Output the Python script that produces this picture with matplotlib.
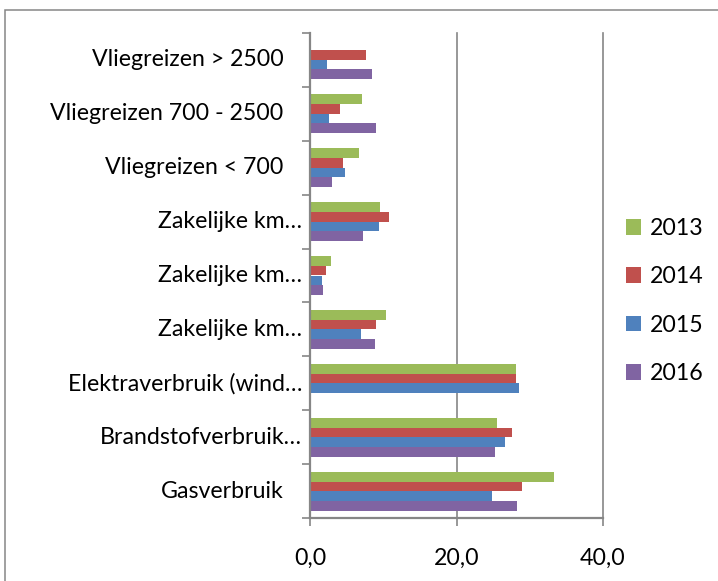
import matplotlib
matplotlib.use('Agg')
import matplotlib.pyplot as plt
from matplotlib.patches import Rectangle
from matplotlib.transforms import ScaledTranslation
import numpy as np

categories = ["Gasverbruik", "Brandstofverbruik…", "Elektraverbruik (wind…",
              "Zakelijke km…", "Zakelijke km…", "Zakelijke km…",
              "Vliegreizen < 700", "Vliegreizen 700 - 2500", "Vliegreizen > 2500"]
years = ["2013", "2014", "2015", "2016"]
v2013 = [33.3, 25.5, 28.1, 10.3, 2.8, 9.5, 6.7, 7.1, 0.0]
v2014 = [28.9, 27.6, 28.1, 9.0, 2.2, 10.8, 4.5, 4.1, 7.6]
v2015 = [24.8, 26.6, 28.5, 6.9, 1.6, 9.4, 4.7, 2.6, 2.3]
v2016 = [28.3, 25.2, 0.0, 8.8, 1.7, 7.2, 2.9, 9.0, 8.4]
xticks = [0, 20, 40]
xticklabels = ["0,0", "20,0", "40,0"]

series = [v2013, v2014, v2015, v2016]
colors = ["#9BBB59", "#C0504D", "#4F81BD", "#8064A2"]

FONT = ['Lato', 'DejaVu Sans']
plt.rcParams['font.family'] = FONT
FS = 16.7
GRAY = '#868686'

W, H = 718, 581
fig = plt.figure(figsize=(W / 100, H / 100), dpi=100)
fig.patch.set_facecolor('white')

left, right, top, bottom = 310.3, 603.0, 32.7, 518.3
ax = fig.add_axes([left / W, 1 - bottom / H, (right - left) / W, (bottom - top) / H])

n = len(categories)
y = np.arange(n)
h = 0.179
offsets = [1.5 * h, 0.5 * h, -0.5 * h, -1.5 * h]
handles = []
for vals, col, off, yr in zip(series, colors, offsets, years):
    b = ax.barh(y + off, vals, height=h, color=col, linewidth=0, label=yr, zorder=3)
    handles.append(b)

ax.set_xlim(0, 40)
ax.set_ylim(-0.5, n - 0.5)

for s in ['top', 'right']:
    ax.spines[s].set_visible(False)
for s in ['left', 'bottom']:
    ax.spines[s].set_color(GRAY)
    ax.spines[s].set_linewidth(1.6)
    ax.spines[s].set_zorder(4)

ax.set_xticks(xticks)
ax.set_xticklabels(xticklabels, fontsize=FS)
ax.tick_params(axis='x', length=6, width=1.2, color=GRAY, pad=15, labelcolor='black')
ax.grid(axis='x', color=GRAY, linewidth=1.2, zorder=1)
for l in ax.get_xgridlines():
    l.set_clip_on(False)
ax.set_axisbelow(True)

ax.set_yticks(y)
ax.set_yticklabels([])
ax.tick_params(axis='y', which='major', length=0)
ax.set_yticks(np.arange(-0.5, n, 1.0), minor=True)
ax.tick_params(axis='y', which='minor', length=6, width=1.2, color=GRAY)

ytr = ax.get_yaxis_transform()
for i, lab in enumerate(categories):
    shift = -8 if lab.endswith('…') else -27
    tr = ytr + ScaledTranslation(shift / 100, 0, fig.dpi_scale_trans)
    ax.text(0, i, lab, transform=tr, ha='right', va='center', fontsize=FS, color='black')

fig.legend(handles=handles, labels=years, loc='upper left',
           bbox_to_anchor=(626 / W, 1 - 218 / H), frameon=False, fontsize=FS,
           handlelength=0.65, handleheight=0.65, handletextpad=0.38,
           labelspacing=1.18, borderpad=0, borderaxespad=0)

fig.patches.append(Rectangle((5 / W, -0.1), 1.2, (H - 10) / H + 0.1,
                             transform=fig.transFigure, fill=False,
                             edgecolor=GRAY, linewidth=1.1))

fig.savefig('out.png', dpi=100, facecolor='white')
